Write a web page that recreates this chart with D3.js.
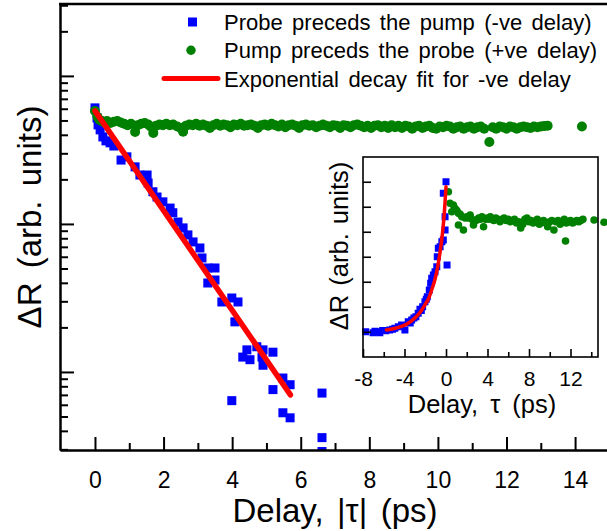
<!DOCTYPE html>
<html>
<head>
<meta charset="utf-8">
<script src="https://cdn.jsdelivr.net/npm/d3@7"></script>
<style>
  body { margin: 0; background: #fff; }
  svg { display: block; font-family: "Liberation Sans", Arial, sans-serif; }
</style>
</head>
<body>
<svg id="chart" width="607" height="531"></svg>
<script>
// main plot: |delay| (ps) vs dR on log axis
var probeFirst = [
  [0.00, 60.8], [0.06, 52], [0.09, 46.7], [0.15, 43.2], [0.23, 38.7], [0.32, 36.4],
  [0.44, 35.3], [0.55, 33.6], [0.76, 27], [0.93, 28.4], [1.17, 24.3], [1.31, 21.4],
  [1.52, 21.4], [1.55, 18.9], [1.69, 16.5], [1.81, 15.2], [1.98, 14.1], [2.19, 12.8],
  [2.27, 11.9], [2.42, 10.3], [2.57, 9.4], [2.71, 8.43], [2.86, 7.56], [3.06, 6.88],
  [3.12, 5.89], [3.29, 5.04], [3.50, 5.04], [3.29, 3.99], [3.50, 4.18], [3.70, 2.97],
  [3.99, 3.16], [4.17, 2.97], [4.08, 2.18], [4.43, 1.41], [4.31, 1.26], [4.52, 1.21],
  [4.72, 1.48], [4.90, 1.41], [4.87, 1.26], [5.19, 1.36], [4.90, 1.11], [5.48, 0.91],
  [5.69, 0.82], [5.19, 0.76], [3.99, 0.64], [5.48, 0.53], [5.69, 0.49], [6.62, 0.72],
  [6.62, 0.36], [6.62, 0.29]
]

var pumpFirst = [
  [0.00, 58], [0.07, 53], [0.13, 50.5], [0.20, 49.5], [0.27, 48.5], [0.35, 49.5],
  [0.45, 48], [0.55, 49], [0.65, 49.5], [0.75, 48.5], [0.85, 47.5], [0.95, 46.5],
  [1.05, 47.5], [1.17, 41.8], [1.25, 46.5], [1.35, 47.5], [1.45, 48], [1.55, 47],
  [1.62, 45.5], [1.70, 41.2], [1.78, 46], [1.88, 47], [1.98, 46.5], [2.08, 47.5],
  [2.18, 46.5], [2.28, 47], [2.40, 45.5], [2.50, 44.5], [2.57, 42], [2.65, 46],
  [2.75, 47], [2.85, 46.5], [2.95, 47.5], [3.05, 46], [3.15, 47], [3.25, 46],
  [3.35, 44.5], [3.45, 46.5], [3.55, 47.5], [3.65, 46], [3.75, 47], [3.85, 46.5],
  [3.95, 45], [4.05, 47], [4.15, 46.5], [4.25, 47.5], [4.35, 46], [4.45, 46.5],
  [4.55, 47], [4.65, 46], [4.75, 44.5], [4.85, 46.5], [4.95, 47], [5.05, 46],
  [5.15, 47.5], [5.25, 46.5], [5.35, 45.5], [5.45, 47], [5.55, 45], [5.65, 46.5],
  [5.75, 47], [5.85, 46], [5.95, 44.5], [6.05, 46.5], [6.15, 47], [6.25, 46],
  [6.35, 46.5], [6.45, 45], [6.55, 46], [6.65, 47], [6.75, 46], [6.85, 45],
  [6.95, 46.5], [7.05, 46], [7.15, 44.5], [7.25, 46.5], [7.35, 46], [7.45, 45],
  [7.55, 46.5], [7.65, 47], [7.75, 46], [7.85, 45], [7.95, 46], [8.05, 44.5],
  [8.15, 46], [8.25, 46.5], [8.35, 45], [8.45, 46], [8.55, 44.5], [8.65, 46.5],
  [8.75, 45], [8.85, 46], [8.95, 44.5], [9.05, 46], [9.15, 45.5], [9.25, 44],
  [9.35, 45.5], [9.45, 46], [9.55, 44.5], [9.65, 45.5], [9.75, 46], [9.85, 44.5],
  [9.95, 44], [10.05, 45.5], [10.15, 45], [10.25, 46], [10.35, 45.5], [10.45, 44],
  [10.55, 45], [10.65, 45.5], [10.75, 44], [10.85, 45], [10.95, 45.5], [11.05, 44],
  [11.15, 45], [11.25, 45.5], [11.35, 44], [11.50, 35.8], [11.60, 45], [11.70, 44],
  [11.80, 45.5], [11.90, 45], [12.00, 44], [12.10, 45.5], [12.20, 45], [12.30, 44],
  [12.40, 45], [12.50, 45.5], [12.60, 45], [12.70, 44.5], [12.80, 45.5], [12.90, 45],
  [13.00, 45.5], [13.10, 45.8], [13.20, 46], [14.20, 45.5], [15.20, 45]
]

// exponential decay fit for -ve delay (straight on the log axis)
var decayFit = [[0.0, 58], [5.7, 0.7]]

var mainTicks = [0, 2, 4, 6, 8, 10, 12, 14]
var mainMinor = [1, 3, 5, 7, 9, 11, 13, 15]

// inset: signed delay (ps) vs dR on linear axis
var insetProbe = [
  [-7.74, 0], [-7.03, -0.04], [-6.85, 0.02], [-6.64, 0.0], [-6.38, -0.04], [-6.1, 0.05],
  [-5.8, 0.04], [-5.42, 0.07], [-5.15, 0.1], [-4.93, 0.14], [-4.6, 0.2], [-4.28, 0.27],
  [-3.96, 0.07], [-3.64, 0.4], [-3.45, 0.35], [-3.31, 0.47], [-3.1, 0.55], [-2.9, 0.6],
  [-2.68, 0.74], [-2.51, 0.9], [-2.38, 0.85], [-2.25, 1.0], [-2.03, 1.2], [-1.9, 1.3],
  [-1.8, 1.4], [-1.61, 1.67], [-1.48, 1.94], [-1.38, 2.14], [-1.22, 2.27], [-1.06, 2.4],
  [-0.89, 2.6], [-0.84, 3.0], [-0.74, 3.34], [-0.57, 3.4], [-0.4, 3.6], [-0.26, 3.67],
  [-0.09, 4.07], [-0.09, 4.6], [-0.26, 5.54], [0.0, 6.0], [0.1, 2.67]
]

var insetPump = [
  [0.23, 5.6], [0.39, 5.14], [0.56, 4.8], [0.71, 5.07], [0.88, 4.93], [1.05, 4.85],
  [1.2, 4.74], [1.2, 4.27], [1.37, 4.7], [1.53, 4.6], [1.68, 4.07], [1.85, 4.55],
  [2.0, 4.6], [2.17, 4.55], [2.33, 4.67], [2.5, 4.5], [2.65, 4.27], [2.82, 4.45],
  [2.98, 4.47], [3.15, 4.55], [3.3, 4.5], [3.46, 4.6], [3.62, 4.2], [3.8, 4.5],
  [3.95, 4.55], [4.1, 4.5], [4.27, 4.6], [4.45, 4.5], [4.6, 4.45], [4.8, 4.55],
  [5.0, 4.5], [5.2, 4.4], [5.4, 4.5], [5.6, 4.55], [5.8, 4.45], [6.0, 4.5],
  [6.2, 4.4], [6.4, 4.45], [6.6, 4.5], [6.8, 4.35], [7.0, 4.4], [7.2, 4.15],
  [7.4, 4.3], [7.6, 4.5], [7.8, 4.55], [8.0, 4.4], [8.2, 4.45], [8.4, 4.35],
  [8.6, 4.4], [8.8, 4.5], [9.0, 4.3], [9.2, 4.4], [9.4, 4.45], [9.6, 4.35],
  [9.8, 4.2], [10.0, 4.4], [10.2, 4.45], [10.4, 4.07], [10.6, 4.4], [10.8, 4.45],
  [11.0, 4.3], [11.2, 4.4], [11.4, 4.5], [11.52, 3.63], [11.6, 4.35], [11.8, 4.4],
  [12.0, 4.45], [12.2, 4.35], [12.4, 4.4], [12.6, 4.45], [12.8, 4.4], [13.0, 4.45],
  [13.2, 4.5], [14.27, 4.47], [15.23, 4.38]
]

var insetFit = [
  [-5.74, 0.07], [-4.8, 0.15], [-3.8, 0.3], [-3.0, 0.55], [-2.51, 0.77], [-2.0, 1.1],
  [-1.71, 1.3], [-1.4, 1.65], [-1.06, 2.1], [-0.8, 2.6], [-0.57, 3.2], [-0.35, 3.9],
  [-0.19, 4.6], [0.0, 5.8]
]

var insetTicks = [-8, -4, 0, 4, 8, 12]
var insetMinor = [-6, -2, 2, 6, 10, 14]
var insetYTicks = [0, 1, 2, 3, 4, 5, 6]

var legendItems = [
  { label: 'Probe preceds the pump (-ve delay)', kind: 'square', color: '#0000ff' },
  { label: 'Pump preceds the probe (+ve delay)', kind: 'circle', color: '#008000' },
  { label: 'Exponential decay fit for -ve delay', kind: 'line', color: '#ff0000' }
]

var svg = d3.select('#chart')

var x = d3.scaleLinear().domain([-1.02, 15.31]).range([60, 620])
var y = d3.scaleLog().domain([0.297, 306]).range([450, 4])

svg.append('clipPath').attr('id', 'mainClip')
  .append('rect').attr('x', 60).attr('y', 4).attr('width', 560).attr('height', 446)

var plot = svg.append('g').attr('clip-path', 'url(#mainClip)')

var sq = 9
plot.selectAll('.probe')
  .data(probeFirst)
  .enter()
  .append('rect')
  .attr('class', 'probe')
  .attr('x', function (d) { return x(d[0]) - sq / 2 })
  .attr('y', function (d) { return y(d[1]) - sq / 2 })
  .attr('width', sq)
  .attr('height', sq)
  .attr('fill', '#0000ff')

plot.selectAll('.pump')
  .data(pumpFirst)
  .enter()
  .append('circle')
  .attr('class', 'pump')
  .attr('cx', function (d) { return x(d[0]) })
  .attr('cy', function (d) { return y(d[1]) })
  .attr('r', 5)
  .attr('fill', '#008000')

plot.append('path')
  .datum(decayFit)
  .attr('d', d3.line().x(function (d) { return x(d[0]) }).y(function (d) { return y(d[1]) }))
  .attr('fill', 'none')
  .attr('stroke', '#ff0000')
  .attr('stroke-width', 5.5)
  .attr('stroke-linecap', 'round')

// frame + ticks (ticks point inward)
svg.append('g')
  .attr('transform', 'translate(0,450)')
  .call(d3.axisBottom(x).tickValues(mainTicks).tickSizeInner(-13).tickSizeOuter(0).tickPadding(22).tickFormat(d3.format('d')))
  .call(function (g) {
    g.select('.domain').attr('stroke-width', 2.5)
    g.selectAll('.tick line').attr('stroke-width', 2)
    g.selectAll('text').attr('font-size', 23).attr('font-family', 'inherit').attr('fill', '#000')
  })

svg.append('g')
  .attr('transform', 'translate(0,450)')
  .call(d3.axisBottom(x).tickValues(mainMinor).tickSizeInner(-7).tickSizeOuter(0).tickFormat(''))
  .call(function (g) {
    g.select('.domain').remove()
    g.selectAll('.tick line').attr('stroke-width', 2)
  })

var yMajor = [1, 10, 100]
var yMinor = []
;[0.1, 1, 10, 100].forEach(function (p) {
  for (var k = 2; k <= 9; k++) {
    var v = k * p
    if (v >= 0.3 && v <= 306) yMinor.push(v)
  }
})

svg.append('g')
  .attr('transform', 'translate(60,0)')
  .call(d3.axisLeft(y).tickValues(yMajor).tickSizeInner(-14).tickSizeOuter(0).tickFormat(''))
  .call(function (g) {
    g.select('.domain').attr('stroke-width', 2.5)
    g.selectAll('.tick line').attr('stroke-width', 2)
  })

svg.append('g')
  .attr('transform', 'translate(60,0)')
  .call(d3.axisLeft(y).tickValues(yMinor).tickSizeInner(-8).tickSizeOuter(0).tickFormat(''))
  .call(function (g) {
    g.select('.domain').remove()
    g.selectAll('.tick line').attr('stroke-width', 2)
  })

svg.append('line')
  .attr('x1', 59).attr('x2', 620).attr('y1', 4).attr('y2', 4)
  .attr('stroke', '#000').attr('stroke-width', 2.5)

svg.append('text')
  .attr('transform', 'translate(41,217) rotate(-90)')
  .attr('text-anchor', 'middle')
  .attr('font-size', 33)
  .attr('word-spacing', 5)
  .text('\u0394R (arb. units)')

svg.append('text')
  .attr('x', 335).attr('y', 522)
  .attr('text-anchor', 'middle')
  .attr('font-size', 33)
  .attr('word-spacing', 4.3)
  .text('Delay, |\u03c4| (ps)')

// legend
var legend = svg.append('g')
  .selectAll('g')
  .data(legendItems)
  .enter()
  .append('g')
  .attr('transform', function (d, i) { return 'translate(0,' + (22 + i * 28.3) + ')' })

legend.each(function (d) {
  var g = d3.select(this)
  if (d.kind === 'square') {
    g.append('rect').attr('x', 188).attr('y', -4.5).attr('width', 9).attr('height', 9).attr('fill', d.color)
  } else if (d.kind === 'circle') {
    g.append('circle').attr('cx', 191).attr('cy', 0).attr('r', 4.7).attr('fill', d.color)
  } else {
    g.append('line').attr('x1', 164).attr('x2', 218).attr('y1', 0).attr('y2', 0)
      .attr('stroke', d.color).attr('stroke-width', 5).attr('stroke-linecap', 'round')
  }
  g.append('text')
    .attr('x', 224).attr('y', 8)
    .attr('font-size', 22)
    .attr('word-spacing', 3.3)
    .text(d.label)
})

// inset
var ix = d3.scaleLinear().domain([-8, 14.65]).range([363, 598])
var iy = d3.scaleLinear().domain([-1.01, 6.99]).range([357, 157])

var inset = svg.append('g')

inset.append('rect')
  .attr('x', 363).attr('y', 157).attr('width', 235).attr('height', 200)
  .attr('fill', '#fff')

var isq = 7
inset.selectAll('.iprobe')
  .data(insetProbe)
  .enter()
  .append('rect')
  .attr('class', 'iprobe')
  .attr('x', function (d) { return ix(d[0]) - isq / 2 })
  .attr('y', function (d) { return iy(d[1]) - isq / 2 })
  .attr('width', isq)
  .attr('height', isq)
  .attr('fill', '#0000ff')

inset.selectAll('.ipump')
  .data(insetPump)
  .enter()
  .append('circle')
  .attr('class', 'ipump')
  .attr('cx', function (d) { return ix(d[0]) })
  .attr('cy', function (d) { return iy(d[1]) })
  .attr('r', 3.8)
  .attr('fill', '#008000')

inset.append('path')
  .datum(insetFit)
  .attr('d', d3.line().curve(d3.curveMonotoneX).x(function (d) { return ix(d[0]) }).y(function (d) { return iy(d[1]) }))
  .attr('fill', 'none')
  .attr('stroke', '#ff0000')
  .attr('stroke-width', 3.5)
  .attr('stroke-linecap', 'round')

inset.append('rect')
  .attr('x', 363).attr('y', 157).attr('width', 235).attr('height', 200)
  .attr('fill', 'none').attr('stroke', '#000').attr('stroke-width', 1.6)

inset.append('g')
  .attr('transform', 'translate(0,357)')
  .call(d3.axisBottom(ix).tickValues(insetTicks).tickSizeInner(-8).tickSizeOuter(0).tickPadding(14).tickFormat(d3.format('d')))
  .call(function (g) {
    g.select('.domain').remove()
    g.selectAll('.tick line').attr('stroke-width', 1.6)
    g.selectAll('text').attr('font-size', 21).attr('font-family', 'inherit').attr('fill', '#000')
      .text(function (d) { return d < 0 ? '-' + Math.abs(d) : d })
  })

inset.append('g')
  .attr('transform', 'translate(0,357)')
  .call(d3.axisBottom(ix).tickValues(insetMinor).tickSizeInner(-5).tickSizeOuter(0).tickFormat(''))
  .call(function (g) {
    g.select('.domain').remove()
    g.selectAll('.tick line').attr('stroke-width', 1.6)
  })

inset.append('g')
  .attr('transform', 'translate(363,0)')
  .call(d3.axisLeft(iy).tickValues(insetYTicks).tickSizeInner(-8).tickSizeOuter(0).tickFormat(''))
  .call(function (g) {
    g.select('.domain').remove()
    g.selectAll('.tick line').attr('stroke-width', 1.6)
  })

inset.append('text')
  .attr('transform', 'translate(348,246) rotate(-90)')
  .attr('text-anchor', 'middle')
  .attr('font-size', 25.5)
  .attr('word-spacing', 2)
  .text('\u0394R (arb. units)')

inset.append('text')
  .attr('x', 482).attr('y', 413)
  .attr('text-anchor', 'middle')
  .attr('font-size', 25.5)
  .attr('word-spacing', 5)
  .text('Delay, \u03c4 (ps)')
</script>
</body>
</html>
